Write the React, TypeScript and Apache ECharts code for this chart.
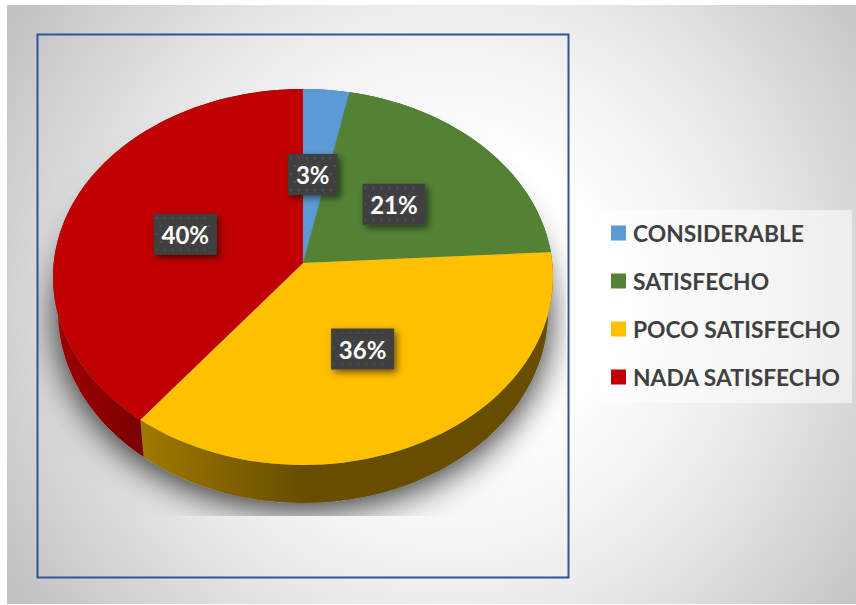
import React, { useEffect, useRef } from "react";
import * as echarts from "echarts";

const categories = ["CONSIDERABLE", "SATISFECHO", "POCO SATISFECHO", "NADA SATISFECHO"];
const percentValues = [3, 21, 36, 40];
const topColors = ["#5B9BD5", "#548235", "#FFC000", "#C00000"];
const sideFrom = ["#3a6a96", "#3a5a24", "#A07A00", "#A00000"];
const sideTo = ["#3a6a96", "#3a5a24", "#664D00", "#7A0000"];

// Layout of the tilted disc
const APEX = { x: 303, y: 263 };
const TOP = { cx: 303, cy: 277, rx: 250, ry: 188 };
const BASE = { cx: 303, cy: 312, rx: 245, ry: 191 };
const TILT = 0.7;
const LABEL_NUDGE_X = [-2, -1, -8, -1];
const LABEL_NUDGE_Y = [-2, -2, 0, -2];

const total = percentValues.reduce((a, b) => a + b, 0);
const startAt = (i: number) =>
  (percentValues.slice(0, i).reduce((a, b) => a + b, 0) / total) * Math.PI * 2;

function rimHit(theta: number) {
  const dx = Math.sin(theta);
  const dy = -TILT * Math.cos(theta);
  const oy = APEX.y - TOP.cy;
  const a = (dx * dx) / (TOP.rx * TOP.rx) + (dy * dy) / (TOP.ry * TOP.ry);
  const b = (2 * oy * dy) / (TOP.ry * TOP.ry);
  const c = (oy * oy) / (TOP.ry * TOP.ry) - 1;
  const s = (-b + Math.sqrt(b * b - 4 * a * c)) / (2 * a);
  return { x: APEX.x + dx * s, y: APEX.y + dy * s };
}

function sampleAngles(a0: number, a1: number) {
  const n = Math.max(4, Math.ceil(((a1 - a0) / (Math.PI * 2)) * 180));
  const out: number[] = [];
  for (let i = 0; i <= n; i++) out.push(a0 + ((a1 - a0) * i) / n);
  return out;
}

const toBase = (p: { x: number; y: number }) => {
  const u = (p.x - TOP.cx) / TOP.rx;
  const v = (p.y - TOP.cy) / TOP.ry;
  return [BASE.cx + BASE.rx * u, BASE.cy + BASE.ry * v];
};

function ellipsePoints(e: typeof BASE) {
  const pts: number[][] = [];
  for (let i = 0; i < 180; i++) {
    const t = (i / 180) * Math.PI * 2;
    pts.push([e.cx + e.rx * Math.cos(t), e.cy + e.ry * Math.sin(t)]);
  }
  return pts;
}

function labelBox(i: number) {
  const text = percentValues[i] + "%";
  const mid = (startAt(i) + startAt(i + 1)) / 2;
  const hit = rimHit(mid);
  const cx = APEX.x + (hit.x - APEX.x) * 0.5 + LABEL_NUDGE_X[i];
  const cy = APEX.y + (hit.y - APEX.y) * 0.5 + LABEL_NUDGE_Y[i];
  const w = text.length > 2 ? 63 : 50;
  const h = 41;
  const children: any[] = [
    {
      type: "rect",
      shape: { x: cx - w / 2, y: cy - h / 2, width: w, height: h },
      style: {
        fill: "#404040",
        shadowBlur: 7,
        shadowOffsetX: 3,
        shadowOffsetY: 3,
        shadowColor: "rgba(0,0,0,0.55)",
      },
      z2: 30,
    },
  ];
  for (let row = 0; row < 5; row++) {
    for (let col = 0; col < Math.floor(w / 8); col++) {
      children.push({
        type: "circle",
        shape: {
          cx: cx - w / 2 + 3 + col * 8 + (row % 2) * 4,
          cy: cy - h / 2 + 4 + row * 8,
          r: 0.9,
        },
        style: { fill: "#555555" },
        z2: 31,
        silent: true,
      });
    }
  }
  children.push({
    type: "text",
    style: {
      x: cx,
      y: cy,
      text,
      fill: "#ffffff",
      font: "bold 24px Lato",
      align: "center",
      verticalAlign: "middle",
    },
    z2: 32,
  });
  return children;
}

function renderSlice(i: number) {
  const angles = sampleAngles(startAt(i), startAt(i + 1));
  const rim = angles.map(rimHit);
  const children: any[] = [];
  if (i === 0) {
    children.push({
      type: "group",
      clipPath: { type: "rect", shape: { x: 38, y: 36, width: 528, height: 480 } },
      children: [
        {
          type: "polygon",
          shape: { points: ellipsePoints(BASE) },
          style: {
            fill: "#8a8a8a",
            shadowBlur: 36,
            shadowOffsetY: 6,
            shadowColor: "rgba(0,0,0,0.85)",
          },
          z2: 1,
        },
      ],
    });
  }
  const lower = rim.map(toBase).reverse();
  children.push({
    type: "polygon",
    shape: { points: rim.map((p) => [p.x, p.y]).concat(lower) },
    style: {
      fill: new echarts.graphic.LinearGradient(
        i === 3 ? 55 : 140,
        0,
        i === 3 ? 145 : 305,
        0,
        [
          { offset: 0, color: sideFrom[i] },
          { offset: 1, color: sideTo[i] },
        ],
        true
      ),
    },
    z2: 5,
  });
  children.push({
    type: "polygon",
    shape: { points: [[APEX.x, APEX.y] as number[]].concat(rim.map((p) => [p.x, p.y])) },
    style: { fill: topColors[i] },
    z2: 10,
  });
  return { type: "group", children: children.concat(labelBox(i)) };
}

export default function App() {
  const ref = useRef<HTMLDivElement>(null);
  useEffect(() => {
    const chart = echarts.init(ref.current!, null, { renderer: "svg" });
    chart.setOption({
      animation: false,
      legend: {
        orient: "vertical",
        left: 606,
        top: 214,
        itemWidth: 15,
        itemHeight: 15,
        itemGap: 20,
        icon: "rect",
        data: categories,
        textStyle: {
          fontFamily: "Lato",
          fontWeight: "bold",
          fontSize: 22.8,
          color: "#404040",
          lineHeight: 28,
          padding: [0, 0, 0, 2],
        },
      },
      graphic: [
        {
          type: "rect",
          z: -5,
          shape: { x: 7, y: 5, width: 849, height: 599 },
          style: {
            fill: new echarts.graphic.RadialGradient(
              450,
              300,
              520,
              [
                { offset: 0, color: "#ffffff" },
                { offset: 0.3, color: "#ffffff" },
                { offset: 0.6, color: "#ebebeb" },
                { offset: 1, color: "#c2c2c2" },
              ],
              true
            ),
          },
        },
        {
          type: "rect",
          z: -4,
          shape: { x: 598, y: 210, width: 254, height: 193 },
          style: { fill: "rgba(255,255,255,0.55)" },
        },
        {
          type: "rect",
          z: -3,
          shape: { x: 37.5, y: 34.5, width: 531, height: 543 },
          style: { fill: "none", stroke: "#2F5597", lineWidth: 2 },
        },
      ],
      series: categories.map((name, i) => ({
        type: "custom",
        name,
        coordinateSystem: "none",
        itemStyle: { color: topColors[i] },
        data: [percentValues[i]],
        renderItem: () => renderSlice(i),
      })),
    });
    return () => chart.dispose();
  }, []);
  return (
    <div
      ref={ref}
      style={{ position: "absolute", left: 0, top: 0, width: 856, height: 605, background: "#fff" }}
    />
  );
}
